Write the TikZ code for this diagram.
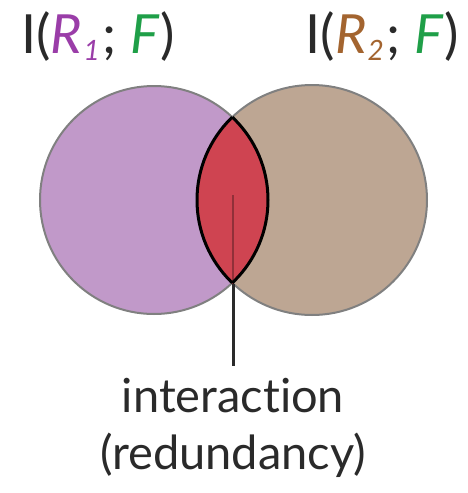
\documentclass[tikz,border=0pt]{standalone}
\usepackage{fontspec}
\setmainfont[Ligatures={NoCommon,NoDiscretionary}]{Lato}
\definecolor{cpurple}{HTML}{C199C9}
\definecolor{ctan}{HTML}{BDA693}
\definecolor{cred}{HTML}{CF4451}
\definecolor{tpurple}{HTML}{9A3DA8}
\definecolor{tgreen}{HTML}{1F9F48}
\definecolor{tbrown}{HTML}{A3642F}
\definecolor{tdark}{HTML}{2A2A2A}
\tikzset{
  circ/.style={draw=black!50, line width=2pt},
  lbl/.style={inner sep=0pt, text=tdark, font=\fontsize{54}{60}\selectfont},
  txt/.style={inner sep=0pt, text=tdark, font=\fontsize{47}{57}\selectfont, align=center}
}
\newcommand{\subidx}[1]{\kern1pt\raisebox{-7pt}{\fontsize{28}{28}\selectfont\textit{#1}}\kern3pt}
\begin{document}
\begin{tikzpicture}[x=1pt,y=-1pt]
\useasboundingbox (0,0) rectangle (468,493);
\coordinate (c1) at (154,200);
\coordinate (c2) at (312,200);
\fill[cpurple] (c1) circle (114);
\fill[ctan] (c2) circle (115);
\draw[circ] (c1) circle (114);
\draw[circ] (c2) circle (115);
\begin{scope}
  \clip (c1) circle (114);
  \fill[cred] (c2) circle (115);
\end{scope}
\coordinate (top) at (233,116);
\coordinate (bot) at (233,284);
\coordinate (mid) at (233,195);
\draw[cred!70!black, line width=1.5pt] (mid) -- (bot);
\begin{scope}
  \clip (c1) circle (114);
  \draw[black, line width=3pt] (c2) circle (115);
\end{scope}
\begin{scope}
  \clip (c2) circle (115);
  \draw[black, line width=3pt] (c1) circle (114);
\end{scope}
\node[txt, anchor=north, inner ysep=0pt] (t) at (233,378) {interaction\\(redundancy)};
\draw[tdark, line width=3pt, shorten >=12pt] (bot) -- (t.north);
\node[lbl] (l1) at (98,37) {I(\textcolor{tpurple}{\textit{R}\subidx{1}}; \textcolor{tgreen}{\textit{F}})};
\node[lbl] (l2) at (382,37) {I(\textcolor{tbrown}{\textit{R}\subidx{2}}; \textcolor{tgreen}{\textit{F}})};
\end{tikzpicture}
\end{document}
